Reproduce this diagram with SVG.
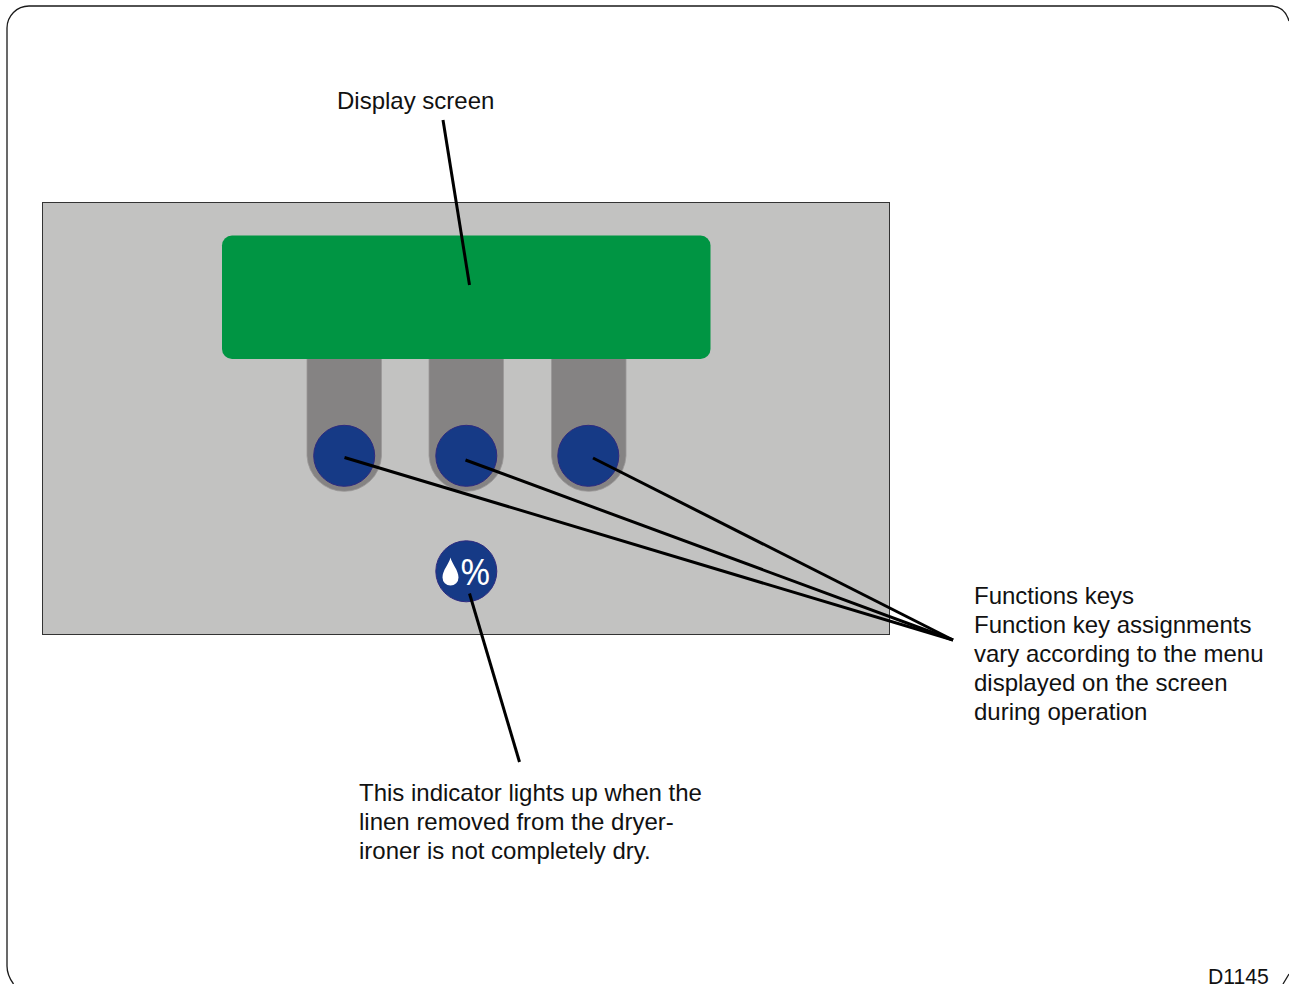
<svg xmlns="http://www.w3.org/2000/svg" width="1289" height="984" viewBox="0 0 1289 984">
<style>
text{font-family:"Liberation Sans",Arial,sans-serif;font-size:24px;fill:#111}
.slot{fill:#858383;stroke:#9a9898;stroke-width:.8}
.key{fill:#163a86;stroke:#2e2a80;stroke-width:1}
.lead{stroke:#000;stroke-width:3;fill:none}
</style>
<rect width="1289" height="984" fill="#fff"/>
<path id="frame" d="M13.500 984Q7 975 7 966V28A22 22 0 0 1 29 6H1272Q1285 7 1289 21M1283 984L1289 974" fill="none" stroke="#1a1a1a" stroke-width="1.300"/>
<g id="panel"><rect x="42.500" y="202.500" width="847" height="432" fill="#c2c2c1" stroke="#333" stroke-width="1"/></g>
<g id="slots">
<path class="slot" d="M307 358V456A37.300 37.300 0 0 0 381.500 456V358Z"/>
<path class="slot" d="M429 358V456A37.300 37.300 0 0 0 503.500 456V358Z"/>
<path class="slot" d="M551.500 358V456A37.300 37.300 0 0 0 626 456V358Z"/>
</g>
<g id="display-screen"><rect x="222" y="235.500" width="488.500" height="123.500" rx="10" fill="#009543"/></g>
<g id="key-1"><circle class="key" cx="344.200" cy="455.800" r="30.500"/></g>
<g id="key-2"><circle class="key" cx="466.300" cy="455.800" r="30.500"/></g>
<g id="key-3"><circle class="key" cx="588.300" cy="455.800" r="30.500"/></g>
<g id="indicator">
<circle class="key" cx="466.300" cy="571.300" r="30.500"/>
<path d="M450.500 557.500C449 564 442.500 570 442.500 577.500A8 8 0 0 0 458.500 577.500C458.500 570 452 564 450.500 557.500Z" fill="#fff"/>
<text x="460" y="585" style="font-size:37px;fill:#fff;font-family:'Open Sans',sans-serif">%</text>
</g>
<g id="connectors" class="lead">
<path d="M443 120L469.500 285"/>
<path d="M344.500 457.500L953 640"/>
<path d="M465.500 460L953 640"/>
<path d="M593 458L953 640"/>
<path d="M469.500 593.500L519.500 762"/>
</g>
<g id="labels">
<text x="337" y="109">Display screen</text>
<text x="974" y="604">Functions keys</text>
<text x="974" y="633">Function key assignments</text>
<text x="974" y="662">vary according to the menu</text>
<text x="974" y="691">displayed on the screen</text>
<text x="974" y="720">during operation</text>
<text x="359" y="801">This indicator lights up when the</text>
<text x="359" y="830">linen removed from the dryer-</text>
<text x="359" y="859">ironer is not completely dry.</text>
<text x="1208" y="984" style="font-size:21.200px">D1145</text>
</g>
</svg>
